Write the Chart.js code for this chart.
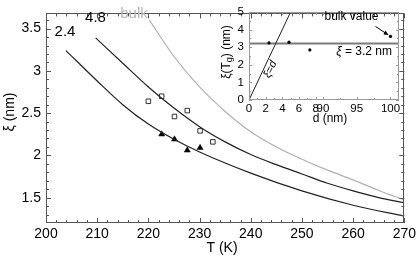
<!DOCTYPE html>
<html>
<head>
<meta charset="utf-8">
<script src="https://cdn.jsdelivr.net/npm/chart.js@4.4.0/dist/chart.umd.min.js"></script>
<style>
  html, body { margin: 0; padding: 0; background: #fff; }
  #wrap { position: relative; width: 419px; height: 260px; }
  #main { position: absolute; left: 0; top: 0; }
  #inset { position: absolute; left: 200px; top: 0; pointer-events: none; }
</style>
</head>
<body>
<div id="wrap">
  <canvas id="main" width="419" height="260"></canvas>
  <canvas id="inset" width="219" height="130"></canvas>
</div>
<script>
// main plot: correlation length vs temperature
const T_24 = [203.9, 210, 215, 220, 225, 230, 240, 250, 260, 270];
const XI_24 = [3.24, 2.88, 2.60, 2.37, 2.19, 2.04, 1.79, 1.58, 1.41, 1.28];
const T_48 = [209.7, 215, 220, 225, 230, 235, 240, 245, 250, 255, 260, 265, 270];
const XI_48 = [3.39, 3.09, 2.81, 2.56, 2.34, 2.16, 2.01, 1.89, 1.78, 1.67, 1.58, 1.50, 1.44];
const T_BULK = [220.2, 225, 230, 235, 240, 245, 250, 255, 260, 265, 270];
const XI_BULK = [3.60, 3.17, 2.81, 2.52, 2.28, 2.10, 1.955, 1.825, 1.71, 1.585, 1.474];
const T_SQ = [220.0, 222.6, 225.1, 227.6, 230.1, 232.6];
const XI_SQ = [2.64, 2.70, 2.46, 2.53, 2.29, 2.16];
const T_TRI = [222.6, 225.1, 227.6, 230.1];
const XI_TRI = [2.25, 2.19, 2.06, 2.09];
const X_TICKS = [200, 210, 220, 230, 240, 250, 260, 270];
const Y_TICKS = [1.5, 2, 2.5, 3, 3.5];

// inset: xi(Tg) vs film thickness d
const INSET_D = [2.4, 4.8, 7.3, 100];
const INSET_XI = [3.24, 3.28, 2.84, 3.61];
const DIAG_D = [0, 5];
const DIAG_XI = [0, 5];
const XI_REF = 3.2;
const D_TICKS = [0, 2, 4, 6, 8, 90, 95, 100];
const XI_TICKS = [0, 1, 2, 3, 4, 5];

const FONT = "'Liberation Sans', Arial, sans-serif";
const pts = (xs, ys) => xs.map((x, i) => ({ x: x, y: ys[i] }));

function drawTicks(chart, color, major, minor, xMajor, xMinor, yMajor, yMinor) {
  const { ctx, chartArea: a, scales: { x, y } } = chart;
  ctx.save();
  ctx.strokeStyle = color;
  ctx.lineWidth = 1;
  ctx.beginPath();
  const vt = (v, len) => {
    const px = Math.round(x.getPixelForValue(v)) + 0.5;
    ctx.moveTo(px, a.bottom); ctx.lineTo(px, a.bottom - len);
    ctx.moveTo(px, a.top); ctx.lineTo(px, a.top + len);
  };
  const ht = (v, len) => {
    const py = Math.round(y.getPixelForValue(v)) + 0.5;
    ctx.moveTo(a.left, py); ctx.lineTo(a.left + len, py);
    ctx.moveTo(a.right, py); ctx.lineTo(a.right - len, py);
  };
  xMajor.forEach(v => vt(v, major));
  xMinor.forEach(v => vt(v, minor));
  yMajor.forEach(v => ht(v, major));
  yMinor.forEach(v => ht(v, minor));
  ctx.stroke();
  ctx.strokeRect(Math.round(a.left) + 0.5, Math.round(a.top) + 0.5,
    Math.round(a.right - a.left) - 1, Math.round(a.bottom - a.top) - 1);
  ctx.restore();
}

function text(ctx, s, x, y, size, color, align) {
  ctx.font = size + 'px ' + FONT;
  ctx.fillStyle = color;
  ctx.textAlign = align || 'center';
  ctx.textBaseline = 'middle';
  ctx.fillText(s, x, y);
}

const mainDecor = {
  id: 'mainDecor',
  afterDraw(chart) {
    const xMinor = [], yMinor = [];
    for (let v = 202; v < 270; v += 2) if (v % 10) xMinor.push(v);
    for (let v = 13; v <= 36; v++) if (v % 5) yMinor.push(v / 10);
    drawTicks(chart, '#555', 5, 3, X_TICKS, xMinor, Y_TICKS, yMinor);
    const ctx = chart.ctx;
    ctx.save();
    text(ctx, '2.4', 65, 32, 15, '#000');
    text(ctx, '4.8', 95.5, 18, 15, '#000');
    text(ctx, 'bulk', 134, 13.5, 15, '#b8b8b8');
    text(ctx, 'T (K)', 222, 248, 14, '#000');
    ctx.translate(10, 112);
    ctx.rotate(-Math.PI / 2);
    text(ctx, 'ξ (nm)', 0, 0, 14, '#000');
    ctx.restore();
  }
};

const axisFont = { family: FONT, size: 14 };

new Chart(document.getElementById('main'), {
  type: 'scatter',
  data: {
    datasets: [
      { data: pts(T_BULK, XI_BULK), showLine: true, borderColor: '#b0b0b0', borderWidth: 1.2,
        pointRadius: 0, cubicInterpolationMode: 'monotone' },
      { data: pts(T_48, XI_48), showLine: true, borderColor: '#222', borderWidth: 1.2,
        pointRadius: 0, cubicInterpolationMode: 'monotone' },
      { data: pts(T_24, XI_24), showLine: true, borderColor: '#222', borderWidth: 1.2,
        pointRadius: 0, cubicInterpolationMode: 'monotone' },
      { data: pts(T_SQ, XI_SQ), showLine: false, pointStyle: 'rect', pointRadius: 3.2,
        borderColor: '#333', borderWidth: 1, backgroundColor: '#fff' },
      { data: pts(T_TRI, XI_TRI), showLine: false, pointStyle: 'triangle', pointRadius: 3.5,
        borderColor: '#000', borderWidth: 0.5, backgroundColor: '#000' }
    ]
  },
  options: {
    responsive: false,
    animation: false,
    devicePixelRatio: 1,
    layout: { padding: { top: 1, right: 12, left: 0, bottom: 0 } },
    plugins: { legend: { display: false }, tooltip: { enabled: false } },
    scales: {
      x: {
        type: 'linear', min: 200, max: 270,
        afterBuildTicks: s => { s.ticks = X_TICKS.map(v => ({ value: v })); },
        afterFit: s => { s.height = 37; },
        grid: { display: false, drawTicks: false },
        border: { display: false },
        ticks: { color: '#000', font: axisFont, padding: 3, maxRotation: 0, autoSkip: false,
          callback: v => String(v) }
      },
      y: {
        type: 'linear', min: 1.2, max: 3.68,
        afterBuildTicks: s => { s.ticks = Y_TICKS.map(v => ({ value: v })); },
        afterFit: s => { s.width = 46; },
        grid: { display: false, drawTicks: false },
        border: { display: false },
        ticks: { color: '#000', font: axisFont, padding: 5, autoSkip: false,
          callback: v => String(v) }
      }
    }
  },
  plugins: [mainDecor]
});

// broken d axis for the inset: 0..8.7 then 89.8..101.3
const D_BREAK_LOW = 8.7;
const D_BREAK_HIGH = 89.78;
const D_AXIS_MAX = 101.26;
const SPLIT = 0.4833;

class BrokenAxis extends Chart.LinearScale {
  static id = 'brokenLinear';
  static defaults = Chart.LinearScale.defaults;
  determineDataLimits() { this.min = 0; this.max = D_AXIS_MAX; }
  buildTicks() { return D_TICKS.map(v => ({ value: v })); }
  getPixelForValue(v) {
    const dec = v <= D_BREAK_LOW
      ? (v / D_BREAK_LOW) * SPLIT
      : SPLIT + (v - D_BREAK_HIGH) / (D_AXIS_MAX - D_BREAK_HIGH) * (1 - SPLIT);
    return this.getPixelForDecimal(dec);
  }
  getValueForPixel(p) {
    const dec = this.getDecimalForPixel(p);
    return dec <= SPLIT
      ? dec / SPLIT * D_BREAK_LOW
      : D_BREAK_HIGH + (dec - SPLIT) / (1 - SPLIT) * (D_AXIS_MAX - D_BREAK_HIGH);
  }
}
Chart.register(BrokenAxis);

const insetDecor = {
  id: 'insetDecor',
  beforeDatasetsDraw(chart) {
    const { ctx, chartArea: a, scales: { y } } = chart;
    const py = y.getPixelForValue(XI_REF);
    ctx.save();
    ctx.strokeStyle = '#7a7a7a';
    ctx.lineWidth = 2;
    ctx.beginPath();
    ctx.moveTo(a.left, py); ctx.lineTo(a.right, py);
    ctx.stroke();
    ctx.restore();
  },
  afterDraw(chart) {
    const { ctx, chartArea: a, scales: { x, y } } = chart;
    const xMinor = [1, 3, 5, 7, 92.5, 97.5];
    const yMinor = [0.5, 1.5, 2.5, 3.5, 4.5];
    drawTicks(chart, '#999', 3, 2, D_TICKS, xMinor, XI_TICKS, yMinor);
    ctx.save();
    // break marks
    const bx = Math.round(x.getPixelForValue(D_BREAK_LOW + 0.01)) - 1;
    ctx.strokeStyle = '#999';
    ctx.lineWidth = 1;
    ctx.beginPath();
    [a.top, a.bottom].forEach(yy => {
      ctx.moveTo(bx - 2, yy + 2); ctx.lineTo(bx, yy - 2);
      ctx.moveTo(bx + 1, yy + 2); ctx.lineTo(bx + 3, yy - 2);
    });
    ctx.stroke();

    // annotations
    const bp = { x: x.getPixelForValue(INSET_D[3]), y: y.getPixelForValue(INSET_XI[3]) };
    text(ctx, 'bulk value', bp.x - 39, 17, 12, '#000');
    ctx.strokeStyle = '#000';
    ctx.lineWidth = 1;
    ctx.beginPath();
    ctx.moveTo(bp.x - 15, bp.y - 10); ctx.lineTo(bp.x - 3, bp.y - 2);
    ctx.stroke();
    ctx.beginPath();
    ctx.moveTo(bp.x - 2, bp.y - 1.5);
    ctx.lineTo(bp.x - 7, bp.y - 2);
    ctx.lineTo(bp.x - 5, bp.y - 6);
    ctx.closePath();
    ctx.fillStyle = '#000';
    ctx.fill();

    const ry = y.getPixelForValue(XI_REF);
    ctx.textAlign = 'left';
    ctx.textBaseline = 'middle';
    const label = ' = 3.2 nm';
    ctx.font = '12px ' + FONT;
    const w2 = ctx.measureText(label).width;
    ctx.font = 'italic 12px ' + FONT;
    const w1 = ctx.measureText('ξ').width;
    const x0 = a.right - 7 - w1 - w2;
    ctx.fillStyle = '#000';
    ctx.fillText('ξ', x0, ry + 8);
    ctx.font = '12px ' + FONT;
    ctx.fillText(label, x0 + w1, ry + 8);

    // xi = d label along the diagonal
    const p0 = { x: x.getPixelForValue(DIAG_D[0]), y: y.getPixelForValue(DIAG_XI[0]) };
    const p1 = { x: x.getPixelForValue(DIAG_D[1]), y: y.getPixelForValue(DIAG_XI[1]) };
    const ang = Math.atan2(p1.y - p0.y, p1.x - p0.x);
    const mid = { x: p0.x + (p1.x - p0.x) * 0.37, y: p0.y + (p1.y - p0.y) * 0.37 };
    ctx.save();
    ctx.translate(mid.x + 6, mid.y + 2);
    ctx.rotate(ang);
    ctx.font = 'italic 11px ' + FONT;
    ctx.textAlign = 'center';
    ctx.fillText('ξ=d', 0, 0);
    ctx.restore();

    text(ctx, 'd (nm)', 130, 119, 12, '#000');
    // y title with subscript
    ctx.translate(27, 52);
    ctx.rotate(-Math.PI / 2);
    ctx.textBaseline = 'middle';
    ctx.textAlign = 'left';
    const parts = [['ξ(T', 12, 0], ['g', 9, 3], [') (nm)', 12, 0]];
    let total = 0;
    parts.forEach(p => { ctx.font = p[1] + 'px ' + FONT; total += ctx.measureText(p[0]).width; });
    let cx = -total / 2;
    parts.forEach(p => {
      ctx.font = p[1] + 'px ' + FONT;
      ctx.fillText(p[0], cx, p[2]);
      cx += ctx.measureText(p[0]).width;
    });
    ctx.restore();
  }
};

const insetFont = { family: FONT, size: 11.5 };

new Chart(document.getElementById('inset'), {
  type: 'scatter',
  data: {
    datasets: [
      { data: pts(DIAG_D, DIAG_XI), showLine: true, borderColor: '#222', borderWidth: 1,
        pointRadius: 0 },
      { data: pts(INSET_D, INSET_XI), showLine: false, pointStyle: 'circle', pointRadius: 1.6,
        borderWidth: 0, backgroundColor: '#000' }
    ]
  },
  options: {
    responsive: false,
    animation: false,
    devicePixelRatio: 1,
    layout: { padding: { top: 9, right: 20, left: 0, bottom: 0 } },
    plugins: { legend: { display: false }, tooltip: { enabled: false } },
    scales: {
      x: {
        type: 'brokenLinear',
        position: 'bottom',
        afterFit: s => { s.height = 30; },
        grid: { display: false, drawTicks: false },
        border: { display: false },
        ticks: { color: '#000', font: insetFont, padding: 2, maxRotation: 0, autoSkip: false,
          callback: v => String(v) }
      },
      y: {
        type: 'linear', min: 0, max: 5,
        afterBuildTicks: s => { s.ticks = XI_TICKS.map(v => ({ value: v })); },
        afterFit: s => { s.width = 49; },
        grid: { display: false, drawTicks: false },
        border: { display: false },
        ticks: { color: '#000', font: insetFont, padding: 5, autoSkip: false }
      }
    }
  },
  plugins: [insetDecor]
});
</script>
</body>
</html>
